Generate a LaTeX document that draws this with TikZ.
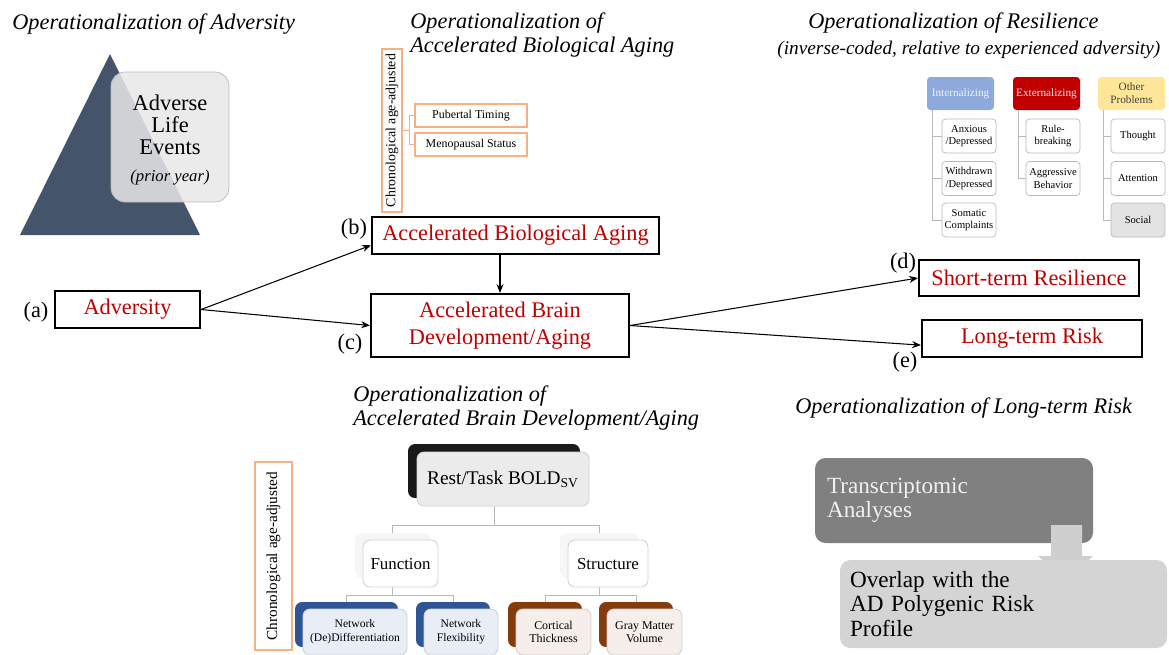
\documentclass[tikz,border=0pt]{standalone}
\usepackage{fontspec}
\setmainfont{Liberation Serif}
\usepackage{tikz}
\usetikzlibrary{
  arrows.meta,
  positioning,
  calc
}

\definecolor{slate}{RGB}{68,84,106}
\definecolor{boxred}{RGB}{192,0,0}
\definecolor{ageorange}{RGB}{244,177,131}
\definecolor{intblue}{RGB}{142,169,219}
\definecolor{othyellow}{RGB}{255,230,153}
\definecolor{netblue}{RGB}{47,85,151}
\definecolor{netlight}{RGB}{233,237,245}
\definecolor{ctxbrown}{RGB}{132,60,12}
\definecolor{ctxlight}{RGB}{246,238,234}
\definecolor{riskgray}{RGB}{128,128,128}
\definecolor{overgray}{RGB}{212,212,212}

\newcommand{\pxl}[1]{#1*0.02cm}

\begin{document}
\begin{tikzpicture}[
  x=0.02cm, y=-0.02cm,
  paneltitle/.style={font=\fontsize{12.7}{14}\selectfont\itshape, align=left, anchor=west, inner sep=0pt},
  mainbox/.style={draw=black, line width=1.2pt, text=boxred, font=\fontsize{12.7}{15.5}\selectfont, align=center, inner sep=0pt},
  pathlabel/.style={font=\fontsize{12.7}{15}\selectfont, inner sep=0pt},
  link/.style={-{Stealth[length=5pt,width=4pt]}, line width=0.6pt},
  agebox/.style={draw=ageorange, line width=0.6pt, rotate=90, inner sep=0pt},
  agelead/.style={draw=ageorange, line width=0.6pt},
  bioitem/.style={draw=ageorange, line width=0.6pt, minimum width=\pxl{112}, minimum height=\pxl{23}, inner sep=0pt, font=\fontsize{6.8}{8}\selectfont},
  rhead/.style={rounded corners=2pt, minimum width=\pxl{67}, minimum height=\pxl{33}, inner sep=0pt, align=center, font=\fontsize{6.4}{7.4}\selectfont},
  ritem/.style={draw=gray!55, fill=white, rounded corners=2pt, minimum width=\pxl{54}, minimum height=\pxl{34}, inner sep=0pt, align=center, font=\fontsize{6}{7.2}\selectfont},
  treeline/.style={draw=gray!55, line width=0.5pt},
  backbox/.style={rounded corners=4pt, inner sep=0pt},
  frontbox/.style={draw=gray!35, line width=0.5pt, rounded corners=4pt, inner sep=0pt, align=center},
  riskbox/.style={rounded corners=6pt, align=left, font=\fontsize{13.2}{13.8}\selectfont}
]
\useasboundingbox (0,0) rectangle (1169,654);

% ============ ADVERSITY ============
\node[paneltitle] (advTitle) at (12,24) {Operationalization of Adversity};
\fill[slate] (110,54) -- (200,235) -- (20,235) -- cycle;
\node[draw=gray!55, fill=gray!18, fill opacity=0.85, rounded corners=8pt,
      minimum width=\pxl{118}, minimum height=\pxl{130}, inner sep=0pt] (advLife) at (170,137) {};
\node[align=center, inner sep=0pt, font=\fontsize{12.8}{12.6}\selectfont] (advText) at (170,140)
  {Adverse\\Life\\Events\\[3pt]{\fontsize{9.5}{11}\selectfont\itshape (prior year)}};

% ============ BIOLOGICAL AGING ============
\node[paneltitle] (bioTitle) at (410,35) {Operationalization of\\Accelerated Biological Aging};
\node[agebox, minimum width=\pxl{163}, minimum height=\pxl{20}, font=\fontsize{7.9}{9}\selectfont]
  (bioAge) at (392,130.5) {Chronological age-adjusted};
\node[bioitem] (pub)  at (471,115.5) {Pubertal Timing};
\node[bioitem] (meno) at (471,144.5) {Menopausal Status};
\draw[agelead] (bioAge.south) -- ++(7,0) coordinate (bioBrk);
\draw[agelead] (bioBrk) |- (pub.west);
\draw[agelead] (bioBrk) |- (meno.west);

% ============ RESILIENCE ============
\node[paneltitle] (resTitle) at (808,23) {Operationalization of Resilience};
\node[paneltitle, font=\fontsize{11}{13}\selectfont\itshape] (resSub) at (777,50)
  {(inverse-coded, relative to experienced adversity)};

\node[rhead, fill=intblue, text=white!88!intblue] (intH) at (960.5,93.5) {Internalizing};
\node[rhead, fill=boxred, text=white!90!boxred]   (extH) at (1046.5,93.5) {Externalizing};
\node[rhead, fill=othyellow, text=black!75]       (othH) at (1131.5,93.5) {Other\\Problems};

\node[ritem] (anx)  at (969,136)    {Anxious\\/Depressed};
\node[ritem] (wdr)  at (969,178.5)  {Withdrawn\\/Depressed};
\node[ritem] (som)  at (969,220)    {Somatic\\Complaints};
\node[ritem] (rule) at (1053,136)   {Rule-\\breaking};
\node[ritem] (aggr) at (1053,178.5) {Aggressive\\Behavior};
\node[ritem] (thou) at (1138,136)   {Thought};
\node[ritem] (attn) at (1138,178.5) {Attention};
\node[ritem, fill=gray!22] (soc) at (1138,220) {Social};

\foreach \hd/\kid in {intH/anx, intH/wdr, intH/som, extH/rule, extH/aggr, othH/thou, othH/attn, othH/soc}
  \draw[treeline] ([xshift=\pxl{6}]\hd.south west) |- (\kid.west);

% ============ MAIN PATH MODEL ============
\node[mainbox, minimum width=\pxl{145}, minimum height=\pxl{37}] (adv)   at (127.5,309.5) {Adversity};
\node[mainbox, minimum width=\pxl{287}, minimum height=\pxl{37}] (bio)   at (515.5,235.5) {Accelerated Biological Aging};
\node[mainbox, minimum width=\pxl{258}, minimum height=\pxl{63}] (brain) at (500,325.5) {Accelerated Brain\\Development/Aging};
\node[mainbox, minimum width=\pxl{220}, minimum height=\pxl{36}] (short) at (1029,278) {Short-term Resilience};
\node[mainbox, minimum width=\pxl{220}, minimum height=\pxl{37}] (long)  at (1032,338.5) {Long-term Risk};

\node[pathlabel] (labA) at (36,312)  {(a)};
\node[pathlabel] (labB) at (354,229) {(b)};
\node[pathlabel] (labC) at (350,344) {(c)};
\node[pathlabel] (labD) at (903,263) {(d)};
\node[pathlabel] (labE) at (905,362) {(e)};

\draw[link] (adv.east) -- ($(bio.south west)!0.25!(bio.north west)$);
\draw[link] (adv.east) -- (brain.west);
\draw[link] (bio.south -| brain.north) -- (brain.north);
\draw[link] (brain.east) -- (short.west);
\draw[link] (brain.east) -- ($(long.south west)!0.33!(long.north west)$);

% ============ BRAIN DEVELOPMENT/AGING ============
\node[paneltitle] (brainTitle) at (353,408) {Operationalization of\\Accelerated Brain Development/Aging};
\node[agebox, minimum width=\pxl{188}, minimum height=\pxl{37}, font=\fontsize{8.7}{10}\selectfont]
  (brainAge) at (273.5,556) {Chronological age-adjusted};

% tree lines first, boxes cover them
\coordinate (boldJ) at (494,525);
\coordinate (funcJ) at (392.5,595);
\coordinate (strucJ) at (599,595);
\draw[treeline] (494,500) -- (boldJ) -| (392.5,540);
\draw[treeline] (boldJ) -| (599,540);
\draw[treeline] (392.5,580) -- (funcJ) -| (346.5,610);
\draw[treeline] (funcJ) -| (453,610);
\draw[treeline] (599,580) -- (strucJ) -| (545,610);
\draw[treeline] (strucJ) -| (636,610);

\node[backbox, fill=black!90, minimum width=\pxl{172}, minimum height=\pxl{54}] (boldB) at (494,471) {};
\node[frontbox, fill=gray!16, minimum width=\pxl{172}, minimum height=\pxl{54}, font=\fontsize{11}{13}\selectfont]
  (boldF) at (503,479) {Rest/Task BOLD\textsubscript{SV}};

\node[backbox, fill=gray!7, minimum width=\pxl{75}, minimum height=\pxl{45}] (funcB) at (392.5,555.5) {};
\node[frontbox, fill=white, minimum width=\pxl{75}, minimum height=\pxl{47}, font=\fontsize{9.6}{11}\selectfont]
  (funcF) at (400.5,563.5) {Function};
\node[backbox, fill=gray!7, minimum width=\pxl{78}, minimum height=\pxl{45}] (strucB) at (599,555.5) {};
\node[frontbox, fill=white, minimum width=\pxl{80}, minimum height=\pxl{47}, font=\fontsize{9.6}{11}\selectfont]
  (strucF) at (608,563.5) {Structure};

\node[backbox, fill=netblue, minimum width=\pxl{103}, minimum height=\pxl{45}] (netB) at (346.5,624.5) {};
\node[frontbox, fill=netlight, minimum width=\pxl{104}, minimum height=\pxl{46}, font=\fontsize{6.6}{7.8}\selectfont]
  (netF) at (355,632) {Network\\(De)Differentiation};
\node[backbox, fill=netblue, minimum width=\pxl{74}, minimum height=\pxl{45}] (flexB) at (453,624.5) {};
\node[frontbox, fill=netlight, minimum width=\pxl{74}, minimum height=\pxl{46}, font=\fontsize{6.6}{7.8}\selectfont]
  (flexF) at (461,632) {Network\\Flexibility};
\node[backbox, fill=ctxbrown, minimum width=\pxl{74}, minimum height=\pxl{45}] (cortB) at (545,624.5) {};
\node[frontbox, fill=ctxlight, minimum width=\pxl{75}, minimum height=\pxl{46}, font=\fontsize{6.8}{7.8}\selectfont]
  (cortF) at (553.5,632) {Cortical\\Thickness};
\node[backbox, fill=ctxbrown, minimum width=\pxl{74}, minimum height=\pxl{45}] (grayB) at (636,624.5) {};
\node[frontbox, fill=ctxlight, minimum width=\pxl{75}, minimum height=\pxl{46}, font=\fontsize{6.8}{7.8}\selectfont]
  (grayF) at (644.5,632) {Gray Matter\\Volume};

% ============ LONG-TERM RISK ============
\node[paneltitle] (riskTitle) at (795,408) {Operationalization of Long-term Risk};
\node[riskbox, fill=riskgray, text=white!94!black, minimum width=\pxl{278}, minimum height=\pxl{85},
      text width=\pxl{254}, inner xsep=\pxl{12}] (tran) at (954,500.5) {Transcriptomic\\Analyses};
\fill[gray!38] (1051,525) -- (1082,525) -- (1082,556) -- (1093,556) -- (1066.5,580)
  -- (1038,556) -- (1051,556) -- cycle;
\node[riskbox, fill=overgray, text=black, minimum width=\pxl{327}, minimum height=\pxl{88},
      text width=\pxl{307}, inner xsep=\pxl{10}] (overlap) at (1003.5,604)
  {Overlap with the\\AD Polygenic Risk\\Profile};

\end{tikzpicture}
\end{document}
